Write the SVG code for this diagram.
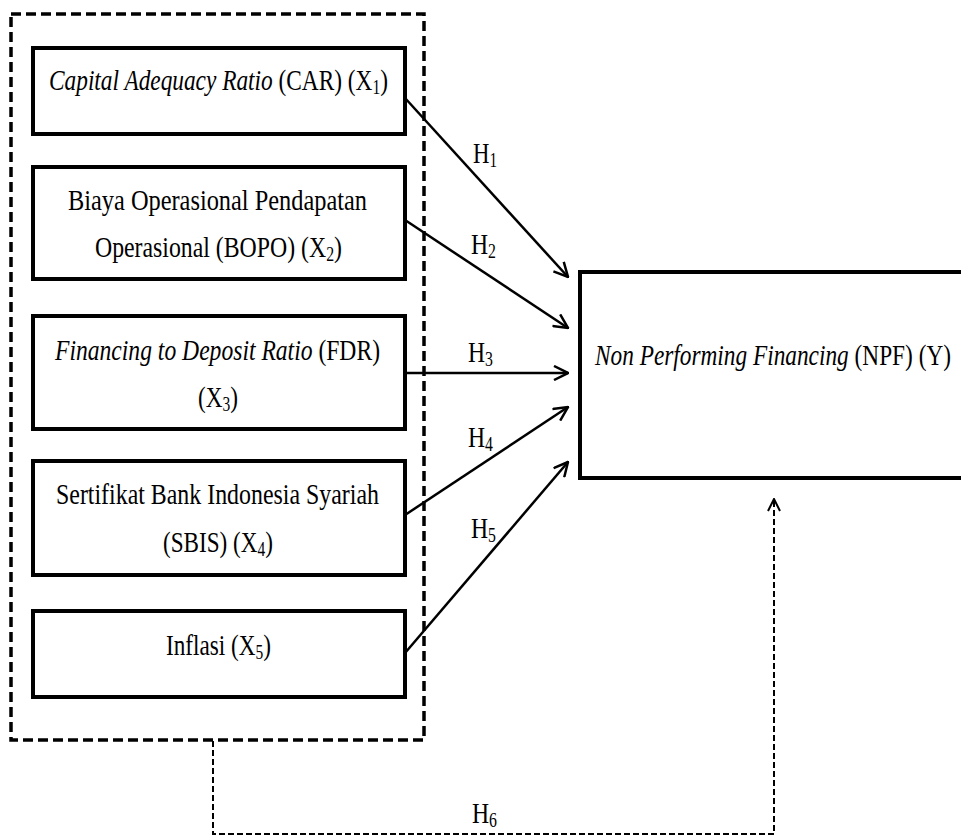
<svg xmlns="http://www.w3.org/2000/svg" width="961" height="836" viewBox="0 0 961 836">
<style>
.box{fill:#fff;stroke:#000;stroke-width:4}
.t{font-family:"Liberation Serif","Times New Roman",serif;font-size:30px;fill:#000}
.i{font-style:italic}
.s{font-size:20px}
.arr{fill:none;stroke:#000;stroke-width:2.5}
.dash{fill:none;stroke:#000;stroke-width:2;stroke-dasharray:6 3}
</style>
<defs>
<marker id="ah" viewBox="0 0 16 16" refX="15" refY="8" markerWidth="16" markerHeight="16" markerUnits="userSpaceOnUse" orient="auto">
<path d="M1,1 L15,8 L1,15" fill="none" stroke="#000" stroke-width="2.5"/>
</marker>
<marker id="ahd" viewBox="0 0 14 14" refX="13" refY="7" markerWidth="14" markerHeight="14" markerUnits="userSpaceOnUse" orient="auto">
<path d="M1,1 L13,7 L1,13" fill="none" stroke="#000" stroke-width="2"/>
</marker>
</defs>
<rect width="961" height="836" fill="#fff"/>
<g id="group-x">
<rect x="11" y="14" width="413" height="726" fill="none" stroke="#000" stroke-width="3.5" stroke-dasharray="10 5"/>
</g>
<g id="connectors">
<line class="arr" x1="405" y1="98" x2="568" y2="277" marker-end="url(#ah)"/>
<line class="arr" x1="405" y1="220" x2="568" y2="328" marker-end="url(#ah)"/>
<line class="arr" x1="405" y1="373" x2="568" y2="373" marker-end="url(#ah)"/>
<line class="arr" x1="405" y1="515" x2="568" y2="407" marker-end="url(#ah)"/>
<line class="arr" x1="405" y1="653" x2="568" y2="462" marker-end="url(#ah)"/>
<path class="dash" d="M213,741 L213,834 L774,834 L774,499" marker-end="url(#ahd)"/>
<text class="t" x="473" y="163" textLength="24" lengthAdjust="spacingAndGlyphs">H<tspan class="s" dy="4">1</tspan></text>
<text class="t" x="471" y="254" textLength="25" lengthAdjust="spacingAndGlyphs">H<tspan class="s" dy="4">2</tspan></text>
<text class="t" x="468" y="362" textLength="25" lengthAdjust="spacingAndGlyphs">H<tspan class="s" dy="4">3</tspan></text>
<text class="t" x="468" y="447" textLength="25" lengthAdjust="spacingAndGlyphs">H<tspan class="s" dy="4">4</tspan></text>
<text class="t" x="471" y="538" textLength="25" lengthAdjust="spacingAndGlyphs">H<tspan class="s" dy="4">5</tspan></text>
<text class="t" x="472" y="823" textLength="25" lengthAdjust="spacingAndGlyphs">H<tspan class="s" dy="4">6</tspan></text>
</g>
<g id="x1">
<rect class="box" x="33" y="48" width="372" height="86"/>
<text class="t" x="49" y="90" textLength="339" lengthAdjust="spacingAndGlyphs"><tspan class="i">Capital Adequacy Ratio</tspan> (CAR) (X<tspan class="s" dy="4">1</tspan><tspan dy="-4">)</tspan></text>
</g>
<g id="x2">
<rect class="box" x="33" y="167" width="372" height="112"/>
<text class="t" x="68" y="210" textLength="299" lengthAdjust="spacingAndGlyphs">Biaya Operasional Pendapatan</text>
<text class="t" x="95" y="257" textLength="247" lengthAdjust="spacingAndGlyphs">Operasional (BOPO) (X<tspan class="s" dy="4">2</tspan><tspan dy="-4">)</tspan></text>
</g>
<g id="x3">
<rect class="box" x="33" y="316" width="372" height="113"/>
<text class="t" x="55" y="360" textLength="325" lengthAdjust="spacingAndGlyphs"><tspan class="i">Financing to Deposit Ratio</tspan> (FDR)</text>
<text class="t" x="198" y="407" textLength="40" lengthAdjust="spacingAndGlyphs">(X<tspan class="s" dy="4">3</tspan><tspan dy="-4">)</tspan></text>
</g>
<g id="x4">
<rect class="box" x="33" y="461" width="372" height="114"/>
<text class="t" x="56" y="504" textLength="323" lengthAdjust="spacingAndGlyphs">Sertifikat Bank Indonesia Syariah</text>
<text class="t" x="163" y="552" textLength="110" lengthAdjust="spacingAndGlyphs">(SBIS) (X<tspan class="s" dy="4">4</tspan><tspan dy="-4">)</tspan></text>
</g>
<g id="x5">
<rect class="box" x="33" y="611" width="372" height="86"/>
<text class="t" x="166" y="655" textLength="105" lengthAdjust="spacingAndGlyphs">Inflasi (X<tspan class="s" dy="4">5</tspan><tspan dy="-4">)</tspan></text>
</g>
<g id="y">
<rect class="box" x="580" y="272" width="386" height="206"/>
<text class="t" x="595" y="365" textLength="356" lengthAdjust="spacingAndGlyphs"><tspan class="i">Non Performing Financing</tspan> (NPF) (Y)</text>
</g>
</svg>
